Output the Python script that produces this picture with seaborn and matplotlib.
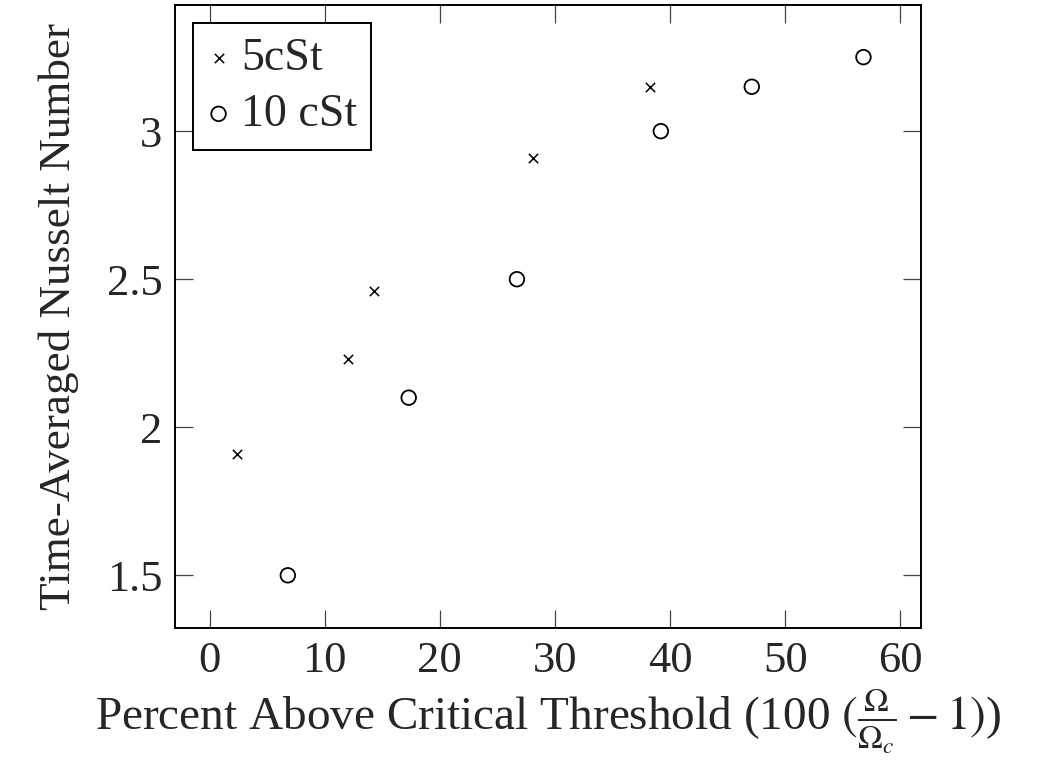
import numpy as np
import pandas as pd
import matplotlib
matplotlib.use("Agg")
import matplotlib.pyplot as plt
import seaborn as sns

# values
pct_5cst = [2.4, 12.0, 14.3, 28.1, 38.3]
nu_5cst = [1.91, 2.23, 2.46, 2.91, 3.15]
pct_10cst = [6.8, 17.3, 26.7, 39.2, 47.1, 56.8]
nu_10cst = [1.50, 2.10, 2.50, 3.00, 3.15, 3.25]
x_ticks = [0, 10, 20, 30, 40, 50, 60]
y_ticks = [1.5, 2, 2.5, 3]

sns.set_style("ticks")
plt.rcParams['font.family'] = ['Liberation Serif', 'DejaVu Serif']
plt.rcParams['mathtext.fontset'] = 'stix'

df5 = pd.DataFrame({'pct': pct_5cst, 'nu': nu_5cst})
df10 = pd.DataFrame({'pct': pct_10cst, 'nu': nu_10cst})

fig = plt.figure(figsize=(10.38, 7.74), dpi=100)
ax = fig.add_axes([0.1686, 0.1886, 0.7187, 0.8049])

sns.scatterplot(data=df5, x='pct', y='nu', ax=ax, marker='x', s=45,
                color='black', linewidth=1.1, label='5cSt')
sns.scatterplot(data=df10, x='pct', y='nu', ax=ax, marker='o', s=110,
                facecolor='none', edgecolor='black', linewidth=1.3, label='10 cSt')

ax.set_xlim(-3, 61.8)
ax.set_ylim(1.322, 3.426)
ax.set_xticks(x_ticks)
ax.set_yticks(y_ticks)
ax.set_yticklabels(['1.5', '2', '2.5', '3'])

ax.tick_params(direction='in', length=13, width=0.9, labelsize=32,
               top=True, right=True, pad=9, color='#444444')
for sp in ax.spines.values():
    sp.set_visible(True)
    sp.set_linewidth(1.4)
    sp.set_color('black')

ax.set_xlabel(r'Percent Above Critical Threshold (100 $(\frac{\Omega}{\Omega_c}-1)$)',
              fontsize=34, labelpad=4)
ax.set_ylabel('Time-Averaged Nusselt Number', fontsize=32.5, labelpad=20)

leg = ax.legend(loc='upper left', fontsize=33, frameon=True, fancybox=False,
                edgecolor='black', handlelength=0.5, handletextpad=0.25,
                borderpad=0.3, labelspacing=0.3, borderaxespad=0.4)
leg.get_frame().set_linewidth(1.4)
leg.get_frame().set_alpha(1)

fig.savefig('out.png', dpi=100)
